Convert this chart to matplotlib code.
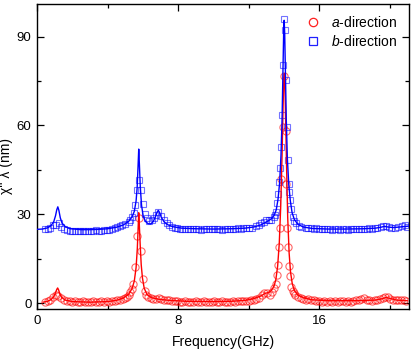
import matplotlib
matplotlib.use("Agg")
import matplotlib.pyplot as plt
from matplotlib.lines import Line2D

# ---- a-direction measured data (red circles) ----
a_freq = [0.45, 0.6, 0.75, 0.9, 1.05, 1.2, 1.35, 1.55, 1.7, 1.85, 2.0, 2.15, 2.3, 2.45, 2.6,
          2.75, 2.9, 3.05, 3.2, 3.35, 3.5, 3.65, 3.8, 3.95, 4.1, 4.25, 4.4, 4.55, 4.7, 4.85,
          5.0, 5.1, 5.2, 5.28, 5.38, 5.47, 5.57, 5.67, 5.77, 5.92, 6.02, 6.1, 6.2, 6.32, 6.45,
          6.6, 6.75, 6.9, 7.05, 7.2, 7.35, 7.5, 7.65, 7.8, 7.95, 8.1, 8.25, 8.4, 8.55, 8.7,
          8.85, 9.0, 9.15, 9.3, 9.45, 9.6, 9.75, 9.9, 10.05, 10.2, 10.35, 10.5, 10.65, 10.8,
          10.95, 11.1, 11.25, 11.4, 11.55, 11.7, 11.85, 12.0, 12.15, 12.3, 12.45, 12.6, 12.77,
          12.9, 13.05, 13.2, 13.34, 13.45, 13.53, 13.6, 13.66, 13.71, 13.76, 13.84, 13.93,
          14.02, 14.1, 14.15, 14.2, 14.25, 14.3, 14.35, 14.42, 14.5, 14.56, 14.66, 14.8, 14.95,
          15.1, 15.25, 15.4, 15.55, 15.7, 15.85, 16.0, 16.15, 16.3, 16.45, 16.6, 16.75, 16.9,
          17.05, 17.2, 17.35, 17.5, 17.65, 17.8, 17.95, 18.1, 18.25, 18.4, 18.55, 18.7, 18.85,
          19.0, 19.15, 19.3, 19.45, 19.6, 19.75, 19.9, 20.05, 20.2, 20.35, 20.5, 20.65, 20.8,
          20.95]
a_vals = [0.4, 0.6, 1.0, 1.9, 2.6, 2.4, 1.6, 1.0, 0.8, 0.6, 0.4, 0.7, 0.3, 0.5, 0.6,
          0.2, 0.5, 0.4, 0.7, 0.3, 0.5, 0.6, 0.4, 0.7, 0.5, 0.8, 0.7, 0.9, 1.2, 1.4,
          1.7, 2.2, 2.7, 3.8, 4.8, 6.6, 12.2, 22.6, 28.8, 17.6, 8.0, 4.1, 2.6, 2.1, 1.6,
          1.4, 1.5, 1.6, 1.3, 1.1, 1.0, 0.9, 0.8, 0.6, 0.7, 0.5, 0.4, 0.6, 0.3, 0.5,
          0.4, 0.6, 0.3, 0.5, 0.7, 0.4, 0.5, 0.3, 0.6, 0.4, 0.5, 0.7, 0.4, 0.5,
          0.3, 0.6, 0.5, 0.7, 0.6, 0.8, 0.7, 0.8, 1.0, 1.2, 1.4, 1.8, 2.7,
          3.4, 3.3, 2.6, 3.8, 5.0, 6.3, 9.4, 12.8, 19.0, 25.5, 42.0, 59.6,
          76.8, 58.1, 40.1, 25.5, 19.0, 12.5, 9.1, 5.5, 4.0, 3.3, 2.7, 2.2, 1.8,
          1.5, 1.2, 1.4, 1.0, 1.2, 0.8, 0.6, 0.5, 0.7, 0.4, 0.6, 0.5, 0.7,
          0.4, 0.6, 0.8, 0.5, 0.6, 0.4, 0.7, 0.9, 1.1, 1.3, 1.6, 1.2, 0.9,
          0.8, 1.0, 1.2, 1.4, 1.7, 2.1, 1.9, 1.5, 1.2, 1.0, 0.9, 1.1, 0.9,
          0.8]

# ---- b-direction measured data (blue squares) ----
b_freq = [0.45, 0.6, 0.75, 0.93, 1.08, 1.23, 1.38, 1.55, 1.7, 1.85, 2.0, 2.15, 2.3, 2.45,
          2.6, 2.75, 2.9, 3.05, 3.2, 3.35, 3.5, 3.65, 3.8, 3.95, 4.1, 4.25, 4.4, 4.53, 4.7,
          4.81, 5.0, 5.19, 5.3, 5.4, 5.48, 5.58, 5.68, 5.78, 5.9, 6.02, 6.12, 6.25, 6.38,
          6.5, 6.62, 6.76, 6.88, 7.02, 7.18, 7.37, 7.5, 7.65, 7.8, 7.95, 8.1, 8.25, 8.4,
          8.55, 8.7, 8.85, 9.0, 9.15, 9.3, 9.45, 9.6, 9.75, 9.9, 10.05, 10.2, 10.35, 10.5,
          10.65, 10.8, 10.95, 11.1, 11.25, 11.4, 11.55, 11.7, 11.85, 12.0, 12.2, 12.4, 12.57,
          12.7, 12.86, 13.0, 13.14, 13.28, 13.43, 13.5, 13.56, 13.62, 13.67, 13.71, 13.76,
          13.83, 13.89, 13.95, 14.01, 14.06, 14.12, 14.17, 14.22, 14.27, 14.31, 14.36, 14.42,
          14.5, 14.6, 14.7, 14.85, 15.0, 15.23, 15.4, 15.55, 15.7, 15.85, 16.0, 16.15, 16.3,
          16.45, 16.6, 16.75, 16.9, 17.05, 17.2, 17.35, 17.5, 17.65, 17.8, 17.95, 18.1, 18.25,
          18.4, 18.55, 18.7, 18.85, 19.0, 19.15, 19.3, 19.5, 19.65, 19.8, 19.95, 20.1, 20.3,
          20.5, 20.7, 20.9, 21.0]
b_vals = [24.9, 25.0, 25.3, 26.3, 26.5, 26.9, 25.8, 25.0, 24.6, 24.4, 24.3, 24.5, 24.3, 24.4,
          24.2, 24.4, 24.5, 24.3, 24.4, 24.6, 24.4, 24.5, 24.7, 24.6, 24.8, 24.9, 25.2, 25.7, 25.9,
          26.3, 26.8, 27.4, 28.2, 29.0, 30.5, 33.0, 38.3, 41.5, 38.3, 33.4, 30.2, 28.6, 27.8,
          28.0, 28.6, 29.7, 30.8, 29.3, 28.0, 26.9, 26.2, 25.7, 25.4, 25.2, 25.1, 25.0, 25.1,
          24.9, 25.0, 25.1, 24.9, 25.0, 24.8, 25.0, 25.1, 24.9, 25.0, 24.9, 25.1, 25.0, 24.8,
          25.0, 24.9, 25.0, 25.1, 25.0, 25.2, 25.1, 25.3, 25.3, 25.4, 25.5, 25.9, 26.3,
          26.9, 27.4, 27.9, 28.0, 28.2, 28.9, 29.8, 30.8, 33.8, 37.0, 40.9, 45.7,
          52.7, 63.4, 80.5, 95.9, 92.2, 75.4, 59.4, 48.2, 40.3, 37.5, 34.7, 31.9,
          29.1, 27.8, 26.9, 26.0, 25.8, 25.5, 25.4, 25.3, 25.1, 25.2, 25.0, 24.9, 25.1,
          24.9, 25.0, 24.8, 24.9, 25.0, 24.8, 24.9, 25.0, 24.8, 24.9, 25.1, 24.9, 25.0,
          25.0, 25.1, 25.0, 25.2, 25.1, 25.3, 25.4, 25.6, 26.0, 26.0, 25.6, 25.4, 25.5,
          25.7, 26.0, 26.3, 25.8]

# ---- fitted curves (solid lines) ----
a_fit_freq = [0.35, 0.6, 0.8, 0.95, 1.05, 1.12, 1.17, 1.22, 1.3, 1.4, 1.6, 2.0, 3.0, 4.0, 4.5,
              4.9, 5.2, 5.4, 5.52, 5.62, 5.69, 5.74, 5.77, 5.8, 5.85, 5.91, 5.98, 6.08, 6.25,
              6.5, 6.9, 7.5, 8.5, 10.0, 11.0, 11.8, 12.3, 12.7, 12.95, 13.15, 13.3, 13.45,
              13.55, 13.65, 13.74, 13.82, 13.9, 13.96, 14.0, 14.03, 14.06, 14.1, 14.16, 14.22,
              14.3, 14.38, 14.48, 14.6, 14.8, 15.1, 15.6, 16.5, 18.0, 19.2, 19.6, 19.8, 20.0,
              20.4, 21.0]
a_fit_vals = [0.3, 0.6, 1.2, 2.2, 3.5, 4.6, 5.1, 4.5, 3.0, 1.9, 1.0, 0.5, 0.3, 0.5, 0.9,
              1.7, 3.0, 5.0, 7.5, 12.0, 18.5, 26.0, 30.5, 27.0, 20.0, 13.0, 8.5, 5.0, 2.8,
              1.8, 1.3, 0.9, 0.6, 0.5, 0.6, 0.9, 1.5, 2.4, 3.3, 3.6, 4.3, 5.8,
              8.0, 12.5, 20.0, 32.0, 50.0, 67.0, 75.5, 77.5, 74.0, 63.0, 45.0, 29.0,
              17.0, 10.5, 6.5, 4.2, 2.7, 1.8, 1.1, 0.8, 0.8, 1.0, 1.5, 1.9, 1.6,
              1.0, 0.8]

b_fit_freq = [0.0, 0.3, 0.6, 0.8, 0.95, 1.05, 1.12, 1.18, 1.24, 1.32, 1.42, 1.6, 1.9, 2.5,
              3.0, 3.5, 4.0, 4.5, 4.9, 5.2, 5.4, 5.52, 5.62, 5.68, 5.73, 5.77, 5.81, 5.86,
              5.93, 6.02, 6.15, 6.3, 6.45, 6.6, 6.72, 6.82, 6.88, 6.95, 7.05, 7.2, 7.4, 7.7,
              8.2, 9.0, 10.0, 11.0, 11.8, 12.3, 12.7, 12.95, 13.15, 13.3, 13.45, 13.57, 13.67,
              13.76, 13.84, 13.9, 13.95, 13.99, 14.02, 14.05, 14.09, 14.14, 14.2, 14.28, 14.37,
              14.47, 14.6, 14.8, 15.1, 15.6, 16.5, 17.5, 18.5, 19.2, 19.5, 19.7, 19.9, 20.2,
              20.6, 21.1]
b_fit_vals = [24.9, 25.0, 25.4, 26.2, 27.5, 29.5, 31.5, 32.5, 31.3, 28.8, 27.0, 25.8, 25.1, 24.8,
              24.8, 24.9, 25.1, 25.6, 26.4, 27.6, 29.2, 31.0, 34.5, 39.0, 46.0, 52.0, 46.5, 39.0,
              33.0, 29.5, 27.6, 26.8, 26.7, 27.6, 29.2, 30.8, 31.3, 30.6, 29.0, 27.5, 26.5, 25.8,
              25.3, 25.1, 25.0, 25.1, 25.3, 25.7, 26.4, 27.2, 27.9, 28.5, 29.6, 31.5, 35.0,
              40.5, 50.0, 62.0, 78.0, 91.0, 95.5, 91.0, 78.0, 62.0, 49.0, 40.0, 34.5,
              30.5, 28.2, 26.6, 25.7, 25.2, 25.0, 25.0, 25.1, 25.3, 25.6, 25.9, 25.7, 25.5,
              25.7, 26.0]

labels = ["a-direction", "b-direction"]
x_major = [0, 8, 16]
x_minor = [4, 12, 20]
y_major = [0, 30, 60, 90]
y_minor = [15, 45, 75]

plt.rcParams['font.family'] = ['Liberation Sans', 'DejaVu Sans']
plt.rcParams['mathtext.fontset'] = 'custom'
plt.rcParams['mathtext.it'] = 'Liberation Sans:italic'
plt.rcParams['mathtext.rm'] = 'Liberation Sans'

fig = plt.figure(figsize=(4.15, 3.52), dpi=100)
ax = fig.add_axes([0.0892, 0.1222, 0.8963, 0.8664])

red_pale = (1.0, 0.0, 0.0, 0.6)
blue_pale = (0.0, 0.0, 1.0, 0.55)

ax.plot(a_freq, a_vals, linestyle='none', marker='o', markersize=5.2,
        markerfacecolor='none', markeredgecolor=red_pale, markeredgewidth=0.8, zorder=2)
ax.plot(b_freq, b_vals, linestyle='none', marker='s', markersize=5.0,
        markerfacecolor='none', markeredgecolor=blue_pale, markeredgewidth=0.8, zorder=2)
ax.plot(a_fit_freq, a_fit_vals, color='#ff0000', linewidth=1.0, zorder=3)
ax.plot(b_fit_freq, b_fit_vals, color='#0000ff', linewidth=1.0, zorder=3)

ax.set_xlim(0, 21.1)
ax.set_ylim(-2, 101)
ax.set_xticks(x_major)
ax.set_xticks(x_minor, minor=True)
ax.set_yticks(y_major)
ax.set_yticks(y_minor, minor=True)
ax.tick_params(which='both', direction='in', top=True, right=True, labelsize=9.5,
               width=0.9, colors='black')
ax.tick_params(which='major', length=5, pad=4)
ax.tick_params(which='minor', length=3)
for s in ax.spines.values():
    s.set_linewidth(1.0)

ax.set_xlabel('Frequency(GHz)', fontsize=10, labelpad=6)
ax.set_ylabel("χ'' λ (nm)", fontsize=10)
ax.yaxis.set_label_coords(-0.064, 0.47)

handles = [
    Line2D([], [], linestyle='none', marker='o', markersize=6, markerfacecolor='none',
           markeredgecolor='#ff2020', markeredgewidth=0.9),
    Line2D([], [], linestyle='none', marker='s', markersize=6, markerfacecolor='none',
           markeredgecolor='#2020ff', markeredgewidth=0.9),
]
leg_labels = [r'$\it{a}$-direction', r'$\it{b}$-direction']
ax.legend(handles, leg_labels, loc='upper right', bbox_to_anchor=(0.995, 0.995),
          frameon=False, fontsize=10, handlelength=1.0, handletextpad=0.8,
          labelspacing=0.25, borderaxespad=0.3)

fig.savefig('out.png', dpi=100)
